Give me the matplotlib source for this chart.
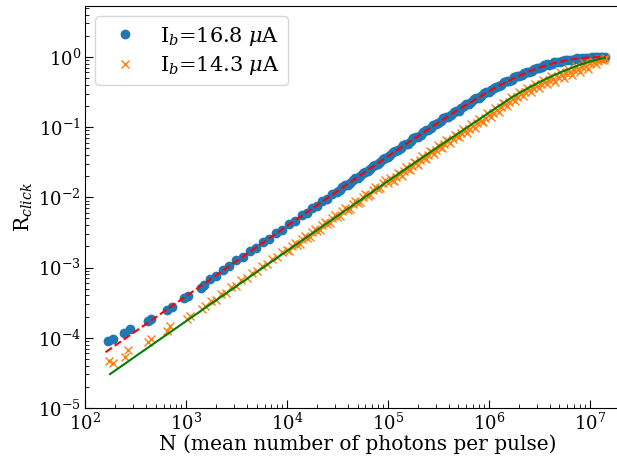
import numpy as np
import matplotlib
matplotlib.use("Agg")
from matplotlib import pyplot as plt

plt.rcParams["font.family"] = "DejaVu Serif"
plt.rcParams["mathtext.fontset"] = "dejavuserif"

# I_b = 16.8 uA : measured click probability vs mean photon number
N_168 = [170, 191, 245, 279, 424, 450, 653, 721, 962, 1054, 1396, 1507,
         1738, 1995, 2344, 2692, 3162, 3631, 4266, 4898, 5754, 6607, 7762, 8913, 10471, 12023,
         14125, 15849, 17783, 19953, 22387, 25119, 28184, 31623, 35481, 39811, 44668, 50119,
         56234, 63096, 70795, 79433, 89125, 1.0e5, 112202, 125893, 141254, 158489, 177828,
         199526, 223872, 251189, 281838, 316228, 354813, 398107, 446684, 501187, 562341,
         630957, 707946, 794328, 891251, 1.0e6, 1.122e6, 1.259e6, 1.413e6, 1.585e6, 1.778e6,
         1.995e6, 2.239e6, 2.512e6, 2.818e6, 3.162e6, 3.548e6, 3.981e6, 4.467e6, 5.012e6,
         5.623e6, 6.310e6, 7.079e6, 7.943e6, 8.913e6, 1.0e7, 1.122e7, 1.259e7, 1.413e7]
R_168 = [9.0e-5, 9.5e-5, 1.16e-4, 1.34e-4, 1.76e-4, 1.88e-4, 2.49e-4, 2.78e-4, 3.65e-4, 3.94e-4, 5.18e-4, 5.58e-4,
         6.9e-4, 7.6e-4, 9.3e-4, 1.04e-3, 1.26e-3, 1.40e-3, 1.70e-3, 1.89e-3, 2.28e-3, 2.55e-3, 3.07e-3, 3.44e-3, 4.12e-3, 4.66e-3,
         0.00566, 0.00598, 0.00712, 0.00752, 0.00895, 0.00946, 0.01126, 0.01189, 0.01416, 0.01494, 0.01779, 0.01878,
         0.02234, 0.02358, 0.02805, 0.02959, 0.03519, 0.03710, 0.04410, 0.04647, 0.05521, 0.05814, 0.06901,
         0.07262, 0.08611, 0.09052, 0.1072, 0.1125, 0.1331, 0.1395, 0.1647, 0.1722, 0.2028,
         0.2116, 0.2485, 0.2585, 0.3024, 0.3133, 0.3615, 0.3802, 0.4321, 0.4519, 0.5102,
         0.5300, 0.5940, 0.6121, 0.6802, 0.6945, 0.7643, 0.7726, 0.8331, 0.8498,
         0.8973, 0.9055, 0.9461, 0.9453, 0.972, 0.975, 0.990, 0.990, 0.996]
# denser sampling above 3e4 photons
N_168b = [33497, 37584, 42170, 47315, 53088, 59566, 66834, 74989, 84140, 94406,
          105925, 118850, 133352, 149624, 167880, 188365, 211349, 237137, 266073, 298538,
          334965, 375837, 421696, 473151, 530884, 595662, 668344, 749894, 841395, 944061,
          1.0593e6, 1.1885e6, 1.3335e6, 1.4962e6, 1.6788e6, 1.8836e6, 2.1135e6, 2.3714e6, 2.6607e6, 2.9854e6,
          3.3497e6, 3.7584e6, 4.2170e6, 4.7315e6, 5.3088e6, 5.9566e6, 6.6834e6, 7.4989e6, 8.4140e6, 9.4406e6,
          1.0593e7, 1.1885e7, 1.3335e7]
R_168b = [0.01278, 0.01477, 0.01607, 0.01856, 0.02018, 0.02331, 0.02534, 0.02925, 0.03180, 0.03669,
          0.03986, 0.04597, 0.04992, 0.05753, 0.06242, 0.07189, 0.07793, 0.08966, 0.09709, 0.1116,
          0.1206, 0.1384, 0.1494, 0.1710, 0.1842, 0.2104, 0.2260, 0.2574, 0.2755, 0.3127,
          0.3333, 0.3765, 0.3994, 0.4487, 0.4732, 0.5281, 0.5530, 0.6125, 0.6360, 0.6981,
          0.7182, 0.7806, 0.7948, 0.8546, 0.8608, 0.9155, 0.9170, 0.9520, 0.9600, 0.978,
          0.984, 0.992, 0.994]

# I_b = 14.3 uA
N_143 = [174, 191, 249, 269, 424, 450, 653, 695, 1016, 1096, 1429, 1541,
         1778, 1995, 2239, 2512, 2818, 3162, 3548, 3981, 4467, 5012, 5623, 6310, 7079, 7943,
         8913, 10000, 11220, 12589, 14125, 15849, 17783, 19953, 22387, 25119, 28184, 31623,
         35481, 39811, 44668, 50119, 56234, 63096, 70795, 79433, 89125,
         104713, 114815, 125893, 138038, 151356, 165959, 181970, 199526, 218776, 239883,
         263027, 288403, 316228, 346737, 380189, 416869, 457088, 501187, 549541, 602560,
         660693, 724436, 794328, 870964, 954993, 1.0471e6, 1.1482e6, 1.2589e6, 1.3804e6,
         1.5136e6, 1.6596e6, 1.8197e6, 1.9953e6, 2.1878e6, 2.3988e6, 2.6303e6, 2.8840e6,
         3.1623e6, 3.4674e6, 3.8019e6, 4.1687e6, 4.5709e6, 5.0119e6, 5.4954e6, 6.0256e6,
         6.6069e6, 7.2444e6, 7.9433e6, 8.7096e6, 9.5499e6, 1.0471e7, 1.1482e7, 1.2589e7,
         1.3804e7, 1.4125e7]
R_143 = [4.70e-5, 4.35e-5, 5.25e-5, 6.67e-5, 8.57e-5, 9.55e-5, 1.25e-4, 1.48e-4, 1.88e-4, 2.05e-4, 2.61e-4, 2.84e-4,
         3.30e-4, 3.50e-4, 4.16e-4, 4.41e-4, 5.24e-4, 5.55e-4, 6.59e-4, 6.99e-4, 8.29e-4, 8.79e-4, 1.044e-3, 1.107e-3, 1.315e-3, 1.393e-3,
         1.656e-3, 1.754e-3, 2.027e-3, 2.100e-3, 2.552e-3, 2.644e-3, 3.212e-3, 3.329e-3, 4.044e-3, 4.190e-3, 5.090e-3, 5.257e-3,
         6.384e-3, 6.615e-3, 8.033e-3, 8.323e-3, 1.010e-2, 1.047e-2, 1.272e-2, 1.316e-2, 1.597e-2,
         0.01863, 0.01697, 0.02234, 0.02034, 0.02679, 0.02440, 0.03211, 0.02921, 0.03842, 0.03495,
         0.04595, 0.04179, 0.05495, 0.04995, 0.06567, 0.05970, 0.07840, 0.07127, 0.09369, 0.08136,
         0.1095, 0.09730, 0.1309, 0.1163, 0.1565, 0.1391, 0.1871, 0.1663, 0.2238,
         0.1989, 0.2661, 0.2342, 0.3119, 0.2731, 0.3620, 0.3162, 0.4167,
         0.3626, 0.4757, 0.4122, 0.5330, 0.4441, 0.5998, 0.4975, 0.6692,
         0.5537, 0.7410, 0.6115, 0.8122, 0.6809, 0.8819, 0.7881, 0.9463,
         0.8951, 0.960]
# denser sampling above 1e4 photons
N_143b = [10593, 11885, 13335, 14962, 16788, 18836, 21135, 23714, 26607, 29854,
          33497, 37584, 42170, 47315, 53088, 59566, 66834, 74989, 84140, 94406,
          100000, 109648, 120226, 131826, 144544, 158489, 173780, 190546, 208930, 229087,
          251189, 275423, 301995, 331131, 363078, 398107, 436516, 478630, 524807, 575440,
          630957, 691831, 758578, 831764, 912011, 1.0e6, 1.0965e6, 1.2023e6, 1.3183e6, 1.4454e6,
          1.5849e6, 1.7378e6, 1.9055e6, 2.0893e6, 2.2909e6, 2.5119e6, 2.7542e6, 3.0200e6, 3.3113e6, 3.6308e6,
          3.9811e6, 4.3652e6, 4.7863e6, 5.2481e6, 5.7544e6, 6.3096e6, 6.9183e6, 7.5858e6, 8.3176e6, 9.1201e6,
          1.0e7, 1.0965e7, 1.2023e7, 1.3183e7]
R_143b = [1.731e-3, 2.208e-3, 2.179e-3, 2.779e-3, 2.744e-3, 3.499e-3, 3.453e-3, 4.396e-3, 4.342e-3, 5.530e-3,
          5.453e-3, 6.955e-3, 6.869e-3, 8.748e-3, 8.636e-3, 1.101e-2, 1.086e-2, 1.385e-2, 1.365e-2, 1.740e-2,
          0.01623, 0.01778, 0.01947, 0.02132, 0.02334, 0.02557, 0.02799, 0.03063, 0.03350, 0.03664,
          0.04007, 0.04382, 0.04793, 0.05240, 0.05726, 0.06259, 0.06843, 0.07478, 0.08175, 0.08936,
          0.09438, 0.1032, 0.1129, 0.1234, 0.1350, 0.1476, 0.1613, 0.1764, 0.1929, 0.2109,
          0.2307, 0.2496, 0.2703, 0.2918, 0.3145, 0.3388, 0.3629, 0.3887, 0.4152, 0.4428,
          0.4613, 0.4893, 0.5190, 0.5495, 0.5804, 0.6129, 0.6441, 0.6775, 0.7092, 0.7394,
          0.8166, 0.8489, 0.8786, 0.9046]

# fitted curves
N_fit_168 = [160, 316, 1000, 3162, 1.0e4, 31623, 1.0e5, 177828, 316228, 562341, 1.0e6, 1.585e6,
             2.512e6, 3.981e6, 6.310e6, 7.943e6, 1.0e7, 1.259e7, 1.413e7]
R_fit_168 = [6.24e-5, 1.233e-4, 3.899e-4, 1.233e-3, 3.892e-3, 0.012257, 0.03825, 0.0670, 0.1160, 0.1969, 0.3230, 0.4610,
             0.6245, 0.7883, 0.9146, 0.9548, 0.9798, 0.9926, 0.9960]
N_fit_143 = [177, 316, 1000, 3162, 1.0e4, 31623, 1.0e5, 177828, 316228, 562341, 1.0e6, 1.259e6, 1.585e6,
             1.995e6, 2.512e6, 3.162e6, 3.981e6, 5.012e6, 6.310e6, 7.943e6, 1.0e7, 1.122e7, 1.259e7, 1.413e7]
R_fit_143 = [3.04e-5, 5.44e-5, 1.72e-4, 5.44e-4, 1.72e-3, 5.43e-3, 0.0170, 0.0300, 0.0525, 0.0915, 0.160, 0.200, 0.250,
             0.305, 0.367, 0.436, 0.512, 0.593, 0.680, 0.770, 0.855, 0.897, 0.935, 0.965]

fig = plt.figure(figsize=(6.17, 4.57), dpi=100)
ax = fig.add_axes([85/617, 49/457, 545/617, 402/457])

ax.plot(N_168 + N_168b, R_168 + R_168b, 'o', color='C0', ms=6, label=r"I$_b$=16.8 $\mu$A")
ax.plot(N_143 + N_143b, R_143 + R_143b, 'x', color='C1', ms=6, label=r"I$_b$=14.3 $\mu$A")
ax.plot(N_fit_168, R_fit_168, 'r--', lw=1.5)
ax.plot(N_fit_143, R_fit_143, 'g-', lw=1.5)

ax.set_xscale("log")
ax.set_yscale("log")
ax.set_xlim(1e2, 2.5e7)
ax.set_ylim(1e-5, 5.3)
ax.tick_params(which="both", direction="in", labelsize=13, pad=3)
ax.tick_params(which="major", length=6)
ax.tick_params(which="minor", length=3)
ax.set_xlabel("N (mean number of photons per pulse)", fontsize=14.5, labelpad=1)
ax.set_ylabel(r"R$_{click}$", fontsize=14.5, labelpad=2)
ax.legend(loc="upper left", fontsize=15, labelspacing=0.3, handletextpad=0.7)

fig.savefig("out.png", dpi=100)
